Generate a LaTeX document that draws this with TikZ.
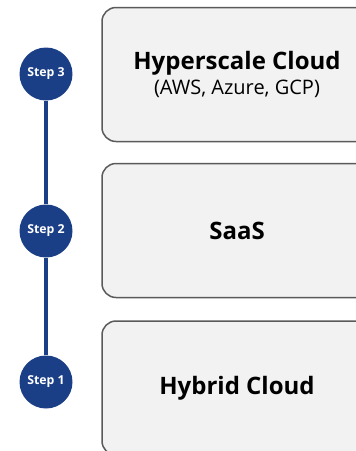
\documentclass[tikz,border=0pt]{standalone}
\usepackage{fontspec}
\setmainfont{Open Sans}
\definecolor{stepblue}{HTML}{1B3F87}
\definecolor{boxgray}{HTML}{F2F2F2}
\definecolor{boxline}{HTML}{5A5A5A}
\begin{document}
\begin{tikzpicture}[x=1pt,y=-1pt]
        \tikzstyle{every node}+=[inner sep=0pt]
        \tikzstyle{stepdot}=[circle, fill=stepblue, minimum size=53pt, text=white, font=\bfseries\fontsize{12.3}{14}\selectfont]
        \tikzstyle{tierbox}=[draw=boxline, line width=1.5pt, fill=boxgray, rounded corners=14pt, minimum width=270pt, minimum height=134pt, align=center, font=\bfseries\fontsize{24}{25}\selectfont]
        \clip (0,0) rectangle (356,451);
        \node [tierbox] (hyper) at (237,74.5) {Hyperscale Cloud\\{\mdseries\fontsize{20}{25}\selectfont (AWS, Azure, GCP)}};
        \node [tierbox] (saas) at (237,230.5) {SaaS};
        \node [tierbox] (hybrid) at (237,388) {Hybrid Cloud};
        \node [stepdot] (step3) at (46,74) {Step 3};
        \node [stepdot] (step2) at (46,231) {Step 2};
        \node [stepdot] (step1) at (46,382) {Step 1};
        \draw [stepblue, line width=3.5pt] (step1) -- (step2) -- (step3);
\end{tikzpicture}
\end{document}
